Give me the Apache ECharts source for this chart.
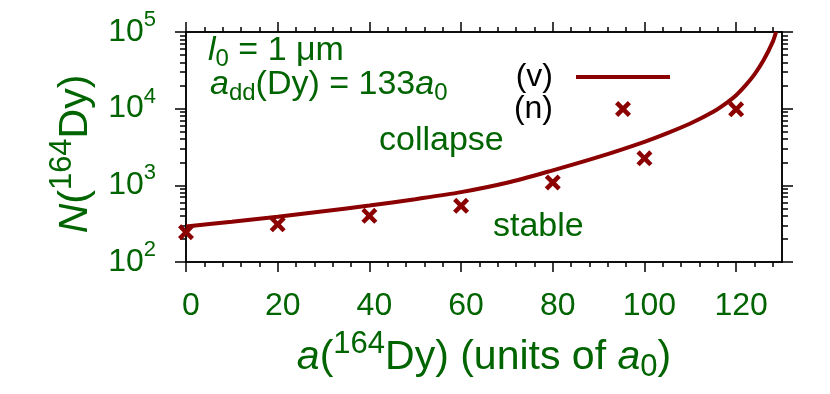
<!DOCTYPE html>
<html>
<head>
<meta charset="utf-8">
<script src="https://cdn.jsdelivr.net/npm/echarts@6/dist/echarts.min.js"></script>
<style>
  html, body { margin: 0; padding: 0; background: #fff; }
  #chart { width: 830px; height: 394px; }
</style>
</head>
<body>
<div id="chart"></div>
<script>
// scattering length a(164Dy) in units of a0
const xVariational = [0, 10, 20, 30, 40, 50, 60, 70, 80, 90, 100, 105, 110, 115, 118, 120, 122, 124, 126, 128, 128.7];
const nVariational = [290, 335, 390, 460, 545, 660, 815, 1080, 1570, 2350, 3700, 4800, 6400, 9100, 12000, 15000, 20000, 28000, 43000, 75000, 100000];
const xNumerical = [0, 20, 40, 60, 80, 100, 120];
const nNumerical = [245, 310, 400, 540, 1090, 2250, 9800];

const xMajorTicks = [0, 20, 40, 60, 80, 100, 120];
const xMinorTicks = [4, 8, 12, 16, 24, 28, 32, 36, 44, 48, 52, 56, 64, 68, 72, 76, 84, 88, 92, 96, 104, 108, 112, 116, 124, 128];
const yMajorTicks = [100, 1000, 10000, 100000];
const yMinorTicks = [200, 300, 400, 500, 600, 700, 800, 900,
  2000, 3000, 4000, 5000, 6000, 7000, 8000, 9000,
  20000, 30000, 40000, 50000, 60000, 70000, 80000, 90000];

const green = '#006400';
const red = '#8b0000';
const font = 'Liberation Sans';

const chart = echarts.init(document.getElementById('chart'));

const lineXY = xVariational.map((x, i) => [x, nVariational[i]]);
const scatXY = xNumerical.map((x, i) => [x, nNumerical[i]]);

const crossPath = 'path://M0,2L2,0L5,3L8,0L10,2L7,5L10,8L8,10L5,7L2,10L0,8L3,5Z';

const axisLine = { show: true, onZero: false, lineStyle: { color: '#000', width: 1.5 } };

// 主刻度 / 次刻度 轴
const xAx = (pos, ticks, len, withLabel) => ({
  type: 'value',
  position: pos,
  min: 0,
  max: 130,
  axisLine: axisLine,
  splitLine: { show: false },
  axisTick: { show: true, inside: false, length: len, customValues: ticks, lineStyle: { color: '#000', width: 1.5 } },
  axisLabel: withLabel ? {
    show: true,
    customValues: xMajorTicks,
    margin: 28,
    color: green,
    fontFamily: font,
    fontSize: 32,
    padding: [0, 0, 0, 10],
  } : { show: false },
});

const yAx = (pos, ticks, len, withLabel) => ({
  type: 'log',
  logBase: 10,
  position: pos,
  min: 100,
  max: 100000,
  axisLine: axisLine,
  splitLine: { show: false },
  axisTick: { show: true, inside: false, length: len, customValues: ticks, lineStyle: { color: '#000', width: 1.5 } },
  axisLabel: withLabel ? {
    show: true,
    margin: 30,
    formatter: (v) => '{b|10}{s|' + Math.round(Math.log10(v)) + '}',
    rich: {
      b: { fontSize: 32, fontFamily: font, color: green, lineHeight: 36 },
      s: { fontSize: 22, fontFamily: font, color: green, padding: [0, 0, 24, 0] },
    },
  } : { show: false },
});

const titleRich = {
  n: { fontSize: 41, fontFamily: font, color: green },
  i: { fontSize: 41, fontFamily: font, color: green, fontStyle: 'italic' },
  sup: { fontSize: 31, fontFamily: font, color: green, padding: [0, 0, 26, 0] },
  sub: { fontSize: 31, fontFamily: font, color: green, padding: [20, 0, 0, 0] },
};

const xAxes = [
  xAx('bottom', xMajorTicks, 10, true),
  xAx('bottom', xMinorTicks, 5, false),
  xAx('top', xMajorTicks, 10, false),
  xAx('top', xMinorTicks, 5, false),
];
xAxes[0].name = '{i|a}{n|(}{sup|164}{n|Dy) (units of }{i|a}{sub|0}{n|)}';
xAxes[0].nameLocation = 'middle';
xAxes[0].nameGap = 67;
xAxes[0].nameTextStyle = { rich: titleRich };

const yAxes = [
  yAx('left', yMajorTicks, 11, true),
  yAx('left', yMinorTicks, 6, false),
  yAx('right', yMajorTicks, 11, false),
  yAx('right', yMinorTicks, 6, false),
];
yAxes[0].name = '{i|N}{n|(}{sup|164}{n|Dy)}';
yAxes[0].nameLocation = 'middle';
yAxes[0].nameGap = 82;
yAxes[0].nameTextStyle = { rich: titleRich, padding: [0, 14, 0, 0] };

const noteRich = {
  n: { fontSize: 34, fontFamily: font, fill: green },
  i: { fontSize: 34, fontFamily: font, fill: green, fontStyle: 'italic' },
  sub: { fontSize: 24, fontFamily: font, fill: green, padding: [17, 0, 0, 0] },
};

const option = {
  animation: false,
  backgroundColor: '#fff',
  grid: { left: 186, right: 48, top: 32, bottom: 132, containLabel: false },
  xAxis: xAxes,
  yAxis: yAxes,
  legend: {
    orient: 'vertical',
    align: 'right',
    right: 155,
    top: 56,
    itemWidth: 94,
    itemHeight: 16,
    itemGap: 0,
    textStyle: { color: '#000', fontFamily: font, fontSize: 32, lineHeight: 32, padding: [0, 18, 0, 0] },
    data: [
      { name: '(v)', icon: 'path://M0,0L100,0L100,4L0,4Z' },
      { name: '(n)' },
    ],
  },
  graphic: [
    {
      type: 'text', left: 208, top: 34,
      style: { text: '{i|l}{sub|0}{n| = 1 μm}', rich: noteRich },
    },
    {
      type: 'text', left: 210, top: 68,
      style: { text: '{i|a}{sub|dd}{n|(Dy) = 133}{i|a}{sub|0}', rich: noteRich },
    },
    {
      type: 'text', left: 379, top: 124,
      style: { text: 'collapse', fontSize: 34, fontFamily: font, fill: green },
    },
    {
      type: 'text', left: 493, top: 210,
      style: { text: 'stable', fontSize: 34, fontFamily: font, fill: green },
    },
  ],
  series: [
    {
      name: '(v)',
      type: 'line',
      data: lineXY,
      smooth: 0.3,
      symbol: 'none',
      lineStyle: { color: red, width: 4 },
      itemStyle: { color: red },
      z: 2,
    },
    {
      name: '(n)',
      type: 'scatter',
      data: scatXY,
      symbol: crossPath,
      symbolSize: 16,
      clip: false,
      itemStyle: { color: red, opacity: 1 },
      z: 3,
    },
  ],
};

chart.setOption(option);
</script>
</body>
</html>
